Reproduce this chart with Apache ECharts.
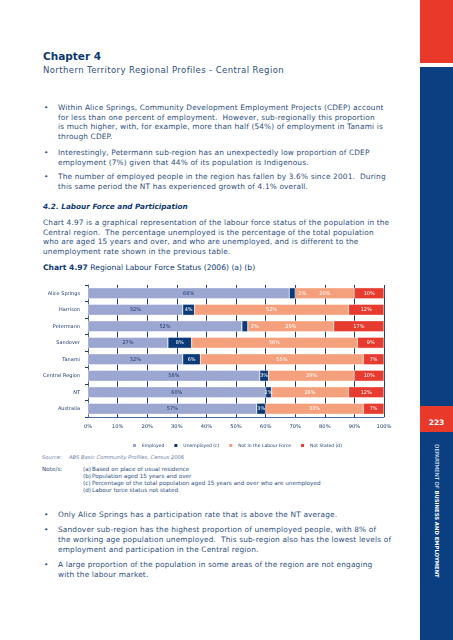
<!DOCTYPE html>
<html><head><meta charset="utf-8">
<script src="https://cdn.jsdelivr.net/npm/echarts@6/dist/echarts.min.js"></script>
<style>
html,body{margin:0;padding:0}
body{width:453px;height:640px;position:relative;background:#fff;overflow:hidden;font-family:"DejaVu Sans",sans-serif;color:#2d4f82}
.t{position:absolute;white-space:nowrap;line-height:1}
.b{font-size:7.4px;letter-spacing:0.15px}
.n{font-size:5.7px}
#chart{position:absolute;left:0;top:275px;width:453px;height:175px}
</style>
</head><body>
<div style="position:absolute;left:420px;top:0;width:33px;height:63px;background:#e8392a"></div>
<div style="position:absolute;left:420px;top:67px;width:33px;height:573px;background:#0a3f82"></div>
<div style="position:absolute;left:420px;top:406px;width:33px;height:26px;background:#e8392a"></div>
<div class="t" style="left:420px;width:33px;text-align:center;top:419px;font-size:7.5px;font-weight:bold;color:#fff">223</div>
<div class="t" style="left:436px;top:511px;font-size:5.3px;color:#fff;transform:translate(-50%,-50%) rotate(90deg)">DEPARTMENT OF <b>BUSINESS AND EMPLOYMENT</b></div>

<div class="t" style="left:43px;top:51px;font-size:10.5px;font-weight:bold;color:#0d3a75">Chapter 4</div>
<div class="t" style="left:43px;top:66px;font-size:8.5px;letter-spacing:0.4px;color:#2d4f82">Northern Territory Regional Profiles - Central Region</div>

<div class="t b" style="left:44px;top:104px">•</div>
<div class="t b" style="left:58px;top:104px">Within Alice Springs, Community Development Employment Projects (CDEP) account</div>
<div class="t b" style="left:58px;top:114px">for less than one percent of employment.&nbsp; However, sub-regionally this proportion</div>
<div class="t b" style="left:58px;top:123px">is much higher, with, for example, more than half (54%) of employment in Tanami is</div>
<div class="t b" style="left:58px;top:133px">through CDEP.</div>
<div class="t b" style="left:44px;top:149px">•</div>
<div class="t b" style="left:58px;top:149px">Interestingly, Petermann sub-region has an unexpectedly low proportion of CDEP</div>
<div class="t b" style="left:58px;top:159px">employment (7%) given that 44% of its population is Indigenous.</div>
<div class="t b" style="left:44px;top:173px">•</div>
<div class="t b" style="left:58px;top:173px">The number of employed people in the region has fallen by 3.6% since 2001.&nbsp; During</div>
<div class="t b" style="left:58px;top:183px">this same period the NT has experienced growth of 4.1% overall.</div>

<div class="t" style="left:43px;top:203px;font-size:7.3px;font-weight:bold;font-style:italic;color:#0d3a75">4.2. Labour Force and Participation</div>
<div class="t b" style="left:43px;top:219px">Chart 4.97 is a graphical representation of the labour force status of the population in the</div>
<div class="t b" style="left:43px;top:229px">Central region.&nbsp; The percentage unemployed is the percentage of the total population</div>
<div class="t b" style="left:43px;top:238px">who are aged 15 years and over, and who are unemployed, and is different to the</div>
<div class="t b" style="left:43px;top:248px">unemployment rate shown in the previous table.</div>
<div class="t" style="left:43px;top:264px;font-size:7.6px;color:#0d3a75"><b>Chart 4.97</b> Regional Labour Force Status (2006) (a) (b)</div>

<div id="chart"></div>

<div class="t" style="left:42px;top:455px;font-size:5.2px;font-style:italic;color:#6b7fa6">Source:</div>
<div class="t" style="left:69px;top:455px;font-size:5.2px;font-style:italic;color:#6b7fa6">ABS Basic Community Profiles, Census 2006</div>
<div class="t n" style="left:42px;top:467px">Note/s:</div>
<div class="t n" style="left:83px;top:467px">(a)</div><div class="t n" style="left:92px;top:467px">Based on place of usual residence</div>
<div class="t n" style="left:83px;top:474px">(b)</div><div class="t n" style="left:92px;top:474px">Population aged 15 years and over</div>
<div class="t n" style="left:83px;top:481px">(c)</div><div class="t n" style="left:92px;top:481px">Percentage of the total population aged 15 years and over who are unemployed</div>
<div class="t n" style="left:83px;top:488px">(d)</div><div class="t n" style="left:92px;top:488px">Labour force status not stated.</div>

<div class="t b" style="left:44px;top:511px">•</div>
<div class="t b" style="left:58px;top:511px">Only Alice Springs has a participation rate that is above the NT average.</div>
<div class="t b" style="left:44px;top:526px">•</div>
<div class="t b" style="left:58px;top:526px">Sandover sub-region has the highest proportion of unemployed people, with 8% of</div>
<div class="t b" style="left:58px;top:536px">the working age population unemployed.&nbsp; This sub-region also has the lowest levels of</div>
<div class="t b" style="left:58px;top:546px">employment and participation in the Central region.</div>
<div class="t b" style="left:44px;top:561px">•</div>
<div class="t b" style="left:58px;top:561px">A large proportion of the population in some areas of the region are not engaging</div>
<div class="t b" style="left:58px;top:571px">with the labour market.</div>

<script>
const categories = ["Alice Springs","Harrison","Petermann","Sandover","Tanami","Central Region","NT","Australia"];
const employed   = [68, 32, 52, 27, 32, 58, 60, 57];
const unemployed = [2, 4, 2, 8, 6, 3, 2, 3];
const notInLF    = [20, 52, 29, 56, 55, 29, 26, 33];
const notStated  = [10, 12, 17, 9, 7, 10, 12, 7];
const seriesNames = ["Employed","Unemployed (c)","Not in the Labour Force","Not Stated (d)"];
const colors = ["#9ba6d1","#0b3a78","#f5a07c","#e63b2e"];
const labelColors = ["#1d3a6e","#ffffff","#ffffff","#ffffff"];
const shiftRight = ["Alice Springs","Petermann"];

const chart = echarts.init(document.getElementById('chart'), null, {renderer:'canvas'});
const font = '"DejaVu Sans", sans-serif';
function mkSeries(i, vals){
  return {
    name: seriesNames[i], type:'bar', stack:'total', barWidth: 11,
    itemStyle:{color:colors[i], borderColor:'#ffffff', borderWidth:0.4},
    label:{show:true, position:'inside', formatter:'{c}%', color:labelColors[i], fontSize:5, fontFamily:font},
    data: vals.map((v,k)=>{
      if(i===1 && shiftRight.indexOf(categories[k])>=0){
        return {value:v, label:{position:'right', distance:3, color:'#ffffff'}};
      }
      return v;
    })
  };
}
chart.setOption({
  animation:false,
  textStyle:{fontFamily:font},
  grid:{left:88, right:69, top:10, height:132},
  legend:{
    data: seriesNames, left:126, top:162, itemWidth:5, itemHeight:5, itemGap:8,
    icon:'rect', textStyle:{fontSize:4.5, color:'#1d3a6e', fontFamily:font}
  },
  xAxis:{
    type:'value', min:0, max:100, interval:10,
    axisLabel:{formatter:'{value}%', fontSize:5.2, color:'#1d3a6e', margin:7, fontFamily:font},
    axisLine:{show:true, lineStyle:{color:'#4a6aa5', width:1}},
    axisTick:{show:false},
    splitLine:{show:true, lineStyle:{color:'#1d3a6e', width:1}}
  },
  yAxis:{
    type:'category', data:categories, inverse:true,
    axisLabel:{fontSize:5, color:'#1d3a6e', margin:8, fontFamily:font},
    axisLine:{show:true, lineStyle:{color:'#4a6aa5', width:1}},
    axisTick:{show:true, length:3, lineStyle:{color:'#1d3a6e'}}
  },
  series:[mkSeries(0,employed), mkSeries(1,unemployed), mkSeries(2,notInLF), mkSeries(3,notStated)]
});
</script>
</body></html>
